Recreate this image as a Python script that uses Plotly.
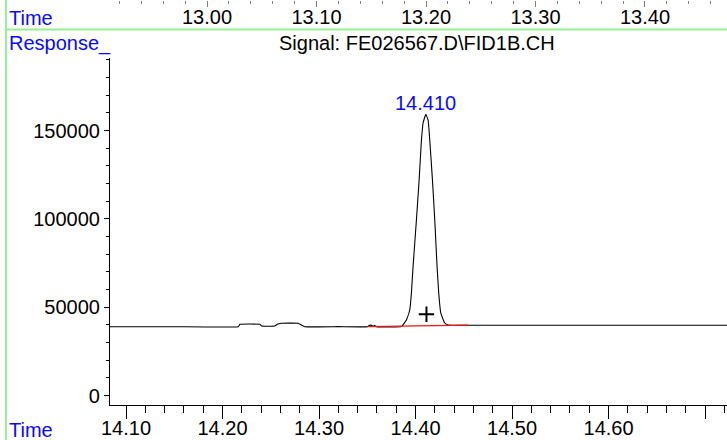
import plotly.graph_objects as go

# ---------------- data ----------------
time_min = [14.0834, 14.150, 14.2163, 14.2180, 14.2387, 14.2405, 14.2542, 14.2566,
            14.2611, 14.2784, 14.2853, 14.3200, 14.3505, 14.3520, 14.3545, 14.3560,
            14.3575, 14.3595, 14.3854, 14.3905, 14.3940, 14.3957, 14.3974, 14.4009,
            14.4037, 14.4061, 14.4078, 14.4106, 14.4130, 14.4147, 14.4175, 14.4199,
            14.4223, 14.4240, 14.4261, 14.4302, 14.4337, 14.4550, 14.6000, 14.7230]
response = [38900, 38950, 38975, 40300, 40300, 39350, 39350, 40300,
            40870, 40870, 38975, 38975, 38975, 39700, 39700, 39200,
            39700, 38975, 39000, 42750, 48400, 58040, 72930, 99380,
            122030, 144680, 154300, 159230, 156000, 144680, 122030, 99380,
            72930, 58040, 46720, 41050, 39920, 39800, 39800, 39800]

baseline_time = [14.3509, 14.4544]
baseline_resp = [38975, 39850]

apex_time = [14.4113]
apex_resp = [45980]

peak_label_time = 14.4106
peak_label_resp = 159230
peak_label = "14.410"

x_tickvals = [14.10, 14.20, 14.30, 14.40, 14.50, 14.60, 14.70]
x_ticktext = ["14.10", "14.20", "14.30", "14.40", "14.50", "14.60", ""]
y_tickvals = [0, 50000, 100000, 150000]
y_ticktext = ["0", "50000", "100000", "150000"]
top_tickvals = [13.00, 13.10, 13.20, 13.30, 13.40, 13.50]
top_ticktext = ["13.00", "13.10", "13.20", "13.30", "13.40", ""]

title_text = "Signal: FE026567.D\\FID1B.CH"

# ---------------- figure ----------------
W, H = 727, 440
ML, MB = 110, 35
plot_w = W - ML
paper_h = H - MB
y_top_px = 58

def px_x(p):
    return (p - ML) / plot_w

def px_y(p):
    return (paper_h - p) / paper_h

FONT = "Liberation Sans, Arial, sans-serif"
BLUE = "rgb(10,10,250)"
GREEN = "rgb(150,240,150)"

fig = go.Figure()
fig.add_trace(go.Scatter(x=time_min, y=response, mode="lines",
                         line=dict(color="black", width=1.1, shape="spline", smoothing=0.3),
                         hoverinfo="skip", showlegend=False))
fig.add_trace(go.Scatter(x=baseline_time, y=baseline_resp, mode="lines",
                         line=dict(color="rgb(240,20,20)", width=1.2),
                         hoverinfo="skip", showlegend=False))
fig.add_trace(go.Scatter(x=apex_time, y=apex_resp, mode="markers",
                         marker=dict(symbol="cross-thin", size=11,
                                     line=dict(color="black", width=2)),
                         hoverinfo="skip", showlegend=False))
# carrier trace for the top (previous panel) time axis
fig.add_trace(go.Scatter(x=top_tickvals, y=[None] * len(top_tickvals), xaxis="x2",
                         mode="lines", hoverinfo="skip", showlegend=False))

fig.add_annotation(x=peak_label_time, y=peak_label_resp, text=peak_label,
                   showarrow=False, yanchor="bottom", yshift=-2,
                   font=dict(family=FONT, size=20, color=BLUE))

# labels outside plot
fig.add_annotation(x=px_x(7), y=px_y(18), xref="paper", yref="paper", text="Time",
                   showarrow=False, xanchor="left", yanchor="middle",
                   font=dict(family=FONT, size=20, color=BLUE))
fig.add_annotation(x=px_x(7), y=px_y(43), xref="paper", yref="paper", text="Response_",
                   showarrow=False, xanchor="left", yanchor="middle",
                   font=dict(family=FONT, size=20, color=BLUE))
fig.add_annotation(x=px_x(7), y=px_y(430), xref="paper", yref="paper", text="Time",
                   showarrow=False, xanchor="left", yanchor="middle",
                   font=dict(family=FONT, size=20, color=BLUE))
fig.add_annotation(x=px_x(417), y=px_y(43), xref="paper", yref="paper", text=title_text,
                   showarrow=False, xanchor="center", yanchor="middle",
                   font=dict(family=FONT, size=20, color="black"))

# green frame lines
fig.add_shape(type="line", xref="paper", yref="paper", x0=px_x(6), x1=px_x(W + 5),
              y0=px_y(29.5), y1=px_y(29.5), line=dict(color=GREEN, width=2))
fig.add_shape(type="line", xref="paper", yref="paper", x0=px_x(6), x1=px_x(6),
              y0=px_y(-5), y1=px_y(H + 5), line=dict(color=GREEN, width=2))

fig.update_layout(
    width=W, height=H, autosize=False,
    margin=dict(l=ML, r=0, t=0, b=MB, pad=0, autoexpand=False),
    paper_bgcolor="white", plot_bgcolor="white",
    font=dict(family=FONT, size=20, color="black"),
    showlegend=False,
    xaxis=dict(range=[14.0834, 14.7227], tickvals=x_tickvals, ticktext=x_ticktext,
               automargin=False,
               ticks="outside", ticklen=13, tickwidth=1.2, tickcolor="black",
               ticklabelstandoff=-8,
               minor=dict(dtick=0.02, tick0=14.0, ticks="outside", ticklen=7,
                          tickwidth=1, tickcolor="black"),
               showline=True, linecolor="black", linewidth=1.2,
               showgrid=False, zeroline=False, anchor="y",
               tickfont=dict(family=FONT, size=20, color="black")),
    yaxis=dict(range=[-5380, 191100], domain=[0, px_y(y_top_px)],
               automargin=False,
               tickvals=y_tickvals, ticktext=y_ticktext,
               ticks="outside", ticklen=5, tickwidth=1.2, tickcolor="black",
               minor=dict(dtick=10000, tick0=0, ticks="outside", ticklen=3,
                          tickwidth=1, tickcolor="black"),
               showline=True, linecolor="black", linewidth=1.2,
               showgrid=False, zeroline=False,
               tickfont=dict(family=FONT, size=20, color="black")),
    xaxis2=dict(overlaying="x", anchor="free", position=1, side="bottom",
                automargin=False,
                range=[12.9114, 13.4749], tickvals=top_tickvals, ticktext=top_ticktext,
                ticks="outside", ticklen=6, tickwidth=1, tickcolor="gray",
                ticklabelstandoff=-7,
                minor=dict(dtick=0.02, tick0=12.0, ticks="outside", ticklen=3,
                           tickwidth=1, tickcolor="gray"),
                showline=False, showgrid=False, zeroline=False,
                tickfont=dict(family=FONT, size=20, color="black")),
)

fig.write_html("out.html", config={"displayModeBar": False},
               post_script="document.body.style.margin='0px';document.body.style.overflow='hidden';")
